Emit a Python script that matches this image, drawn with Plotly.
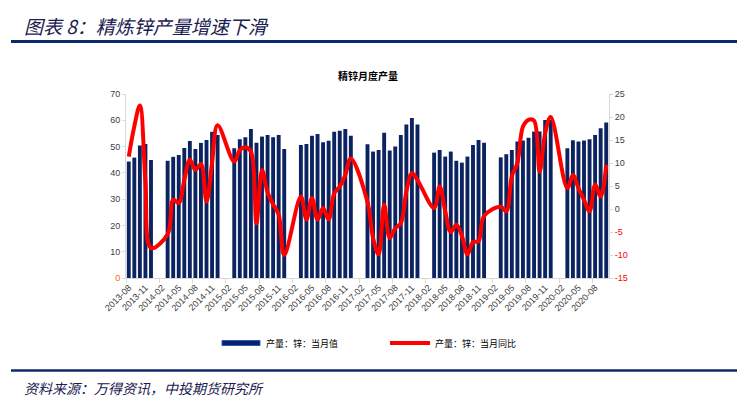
import plotly.graph_objects as go

# ---------------- data ----------------
months = [f"{y}-{m:02d}" for y in range(2013, 2021) for m in range(1, 13)]
months = months[months.index("2013-08"):months.index("2020-10") + 1]

# 产量：锌：当月值 (万吨), Jan/Feb not published
output_value = [
    44.3, 45.8, 50.4, 51.0, 44.9,                                          # 2013-08..12
    None, None, 44.6, 46.1, 46.8, 49.5, 52.1, 49.1, 51.4, 52.5, 55.6, 54.4,  # 2014
    None, None, 49.4, 52.8, 53.5, 56.7, 51.5, 53.8, 54.4, 53.5, 54.4, 49.1,  # 2015
    None, None, 50.6, 51.0, 54.1, 54.8, 51.6, 52.2, 55.6, 56.0, 56.7, 54.1,  # 2016
    None, None, 50.9, 48.1, 48.7, 55.3, 48.5, 50.0, 54.4, 58.4, 60.9, 58.4,  # 2017
    None, None, 47.7, 48.7, 46.2, 48.1, 44.6, 43.9, 46.2, 50.6, 52.5, 51.5,  # 2018
    None, None, 45.9, 47.1, 48.7, 51.9, 52.3, 53.4, 55.7, 55.7, 60.1, 60.1,  # 2019
    None, None, 49.4, 52.4, 51.9, 52.3, 52.8, 54.4, 57.0, 59.2,              # 2020
]

# 产量：锌：当月同比 (%)
output_yoy = [
    11.4, 18.0, 22.5, 6.0, -8.5,
    None, None, -5.5, 2.0, 1.3, 6.3, 10.7, 8.5, 9.8, 1.6, 10.0, 18.2,
    None, None, 10.3, 12.8, 13.4, 12.5, -3.1, 8.5, 3.6, 1.0, -1.2, -10.0,
    None, None, 2.7, -2.3, 2.4, -2.3, 0.2, -2.3, 3.4, 4.9, 7.4, 11.0,
    None, None, 1.5, -6.3, -9.9, 0.9, -6.3, -4.2, -3.1, 3.8, 7.8, 6.3,
    None, None, 0.2, 4.9, -0.5, -5.0, -3.4, -5.8, -9.9, -7.2, -7.0, -1.5,
    None, None, 0.5, -0.5, 7.1, 10.0, 17.9, 19.4, 19.2, 8.1, 16.5, 20.0,
    None, None, 4.5, 7.4, 4.5, 2.0, -0.5, 5.3, 2.7, 9.6,
]

tick_labels = months[::3]
left_ticks = [0, 10, 20, 30, 40, 50, 60, 70]
right_ticks = [-15, -10, -5, 0, 5, 10, 15, 20, 25]

# ---------------- layout helpers ----------------
W, H = 747, 417
L, R, T, B = 126, 609, 94, 278  # plot area in px


def px(x):
    return (x - L) / (R - L)


def py(y):
    return (B - y) / (B - T)


idx = list(range(len(months)))
NAVY = "#0c2361"
RED = "#ff0000"
TICKFONT = dict(family="Liberation Sans, Arial, sans-serif", size=9, color="#404040")
CJK = "Noto Sans CJK SC"

fig = go.Figure()
fig.add_trace(go.Bar(
    x=idx, y=output_value, name="产量：锌：当月值",
    marker=dict(color=NAVY, line=dict(width=0)), yaxis="y", showlegend=False,
))
fig.add_trace(go.Scatter(
    x=idx, y=output_yoy, name="产量：锌：当月同比", mode="lines",
    line=dict(color=RED, width=4, shape="spline", smoothing=1.0),
    connectgaps=True, yaxis="y2", showlegend=False,
))

left_text = ["<span style='color:#ff6600'>0</span>"] + [str(v) for v in left_ticks[1:]]
right_text = [f"<span style='color:#ff0000'>{v}</span>" if v < 0 else str(v) for v in right_ticks]

fig.update_layout(
    width=W, height=H,
    margin=dict(l=L, r=W - R, t=T, b=H - B),
    paper_bgcolor="white", plot_bgcolor="white",
    bargap=0.3,
    xaxis=dict(
        range=[-0.5, len(months) - 0.5],
        tickmode="array", tickvals=idx[::3], ticktext=tick_labels,
        tickangle=-45, tickfont=TICKFONT, ticks="",
        showline=True, linecolor="#d9d9d9", linewidth=1,
        showgrid=False, zeroline=False, automargin=False,
        minor=dict(tickmode="array", tickvals=[i - 0.5 for i in idx[::6]],
                   ticks="outside", ticklen=4, tickcolor="#d9d9d9"),
    ),
    yaxis=dict(
        range=[0, 70], tickmode="array", tickvals=left_ticks, ticktext=left_text,
        tickfont=TICKFONT, ticks="outside", ticklen=3, tickcolor="#d9d9d9",
        showline=True, linecolor="#d9d9d9", linewidth=1,
        showgrid=False, zeroline=False, automargin=False,
    ),
    yaxis2=dict(
        range=[-15, 25], tickmode="array", tickvals=right_ticks, ticktext=right_text,
        tickfont=TICKFONT, ticks="outside", ticklen=3, tickcolor="#d9d9d9",
        overlaying="y", side="right",
        showline=True, linecolor="#d9d9d9", linewidth=1,
        showgrid=False, zeroline=False, automargin=False,
    ),
)

shapes = [
    dict(type="line", xref="paper", yref="paper", x0=px(11), x1=px(737), y0=py(41.5), y1=py(41.5),
         line=dict(color="#0c2a6b", width=3)),
    dict(type="line", xref="paper", yref="paper", x0=px(11), x1=px(737), y0=py(370.5), y1=py(370.5),
         line=dict(color="#0c2a6b", width=2.5)),
    # legend symbols
    dict(type="rect", xref="paper", yref="paper", x0=px(222), x1=px(260), y0=py(345.5), y1=py(340.5),
         fillcolor=NAVY, line=dict(color="#1f5fbf", width=1)),
    dict(type="line", xref="paper", yref="paper", x0=px(390), x1=px(430), y0=py(343), y1=py(343),
         line=dict(color=RED, width=4)),
]
fig.update_layout(shapes=shapes)

annotations = [
    dict(text="<i>图表 8：精炼锌产量增速下滑</i>", x=px(22), y=py(25), xanchor="left", yanchor="middle",
         font=dict(family=CJK, size=19, color="#1a2050")),
    dict(text="<b>精锌月度产量</b>", x=px(368), y=py(75), xanchor="center", yanchor="middle",
         font=dict(family=CJK, size=10, color="#000000")),
    dict(text="产量：锌：当月值", x=px(264), y=py(343), xanchor="left", yanchor="middle",
         font=dict(family=CJK, size=9, color="#000000")),
    dict(text="产量：锌：当月同比", x=px(433), y=py(343), xanchor="left", yanchor="middle",
         font=dict(family=CJK, size=9, color="#000000")),
    dict(text="<i>资料来源：万得资讯，中投期货研究所</i>", x=px(22), y=py(388), xanchor="left", yanchor="middle",
         font=dict(family=CJK, size=14, color="#1a2050")),
]
for a in annotations:
    a.update(xref="paper", yref="paper", showarrow=False)
fig.update_layout(annotations=annotations)

fig.write_html("out.html", config={"displayModeBar": False},
               post_script="document.body.style.margin='0';document.body.style.padding='0';")
